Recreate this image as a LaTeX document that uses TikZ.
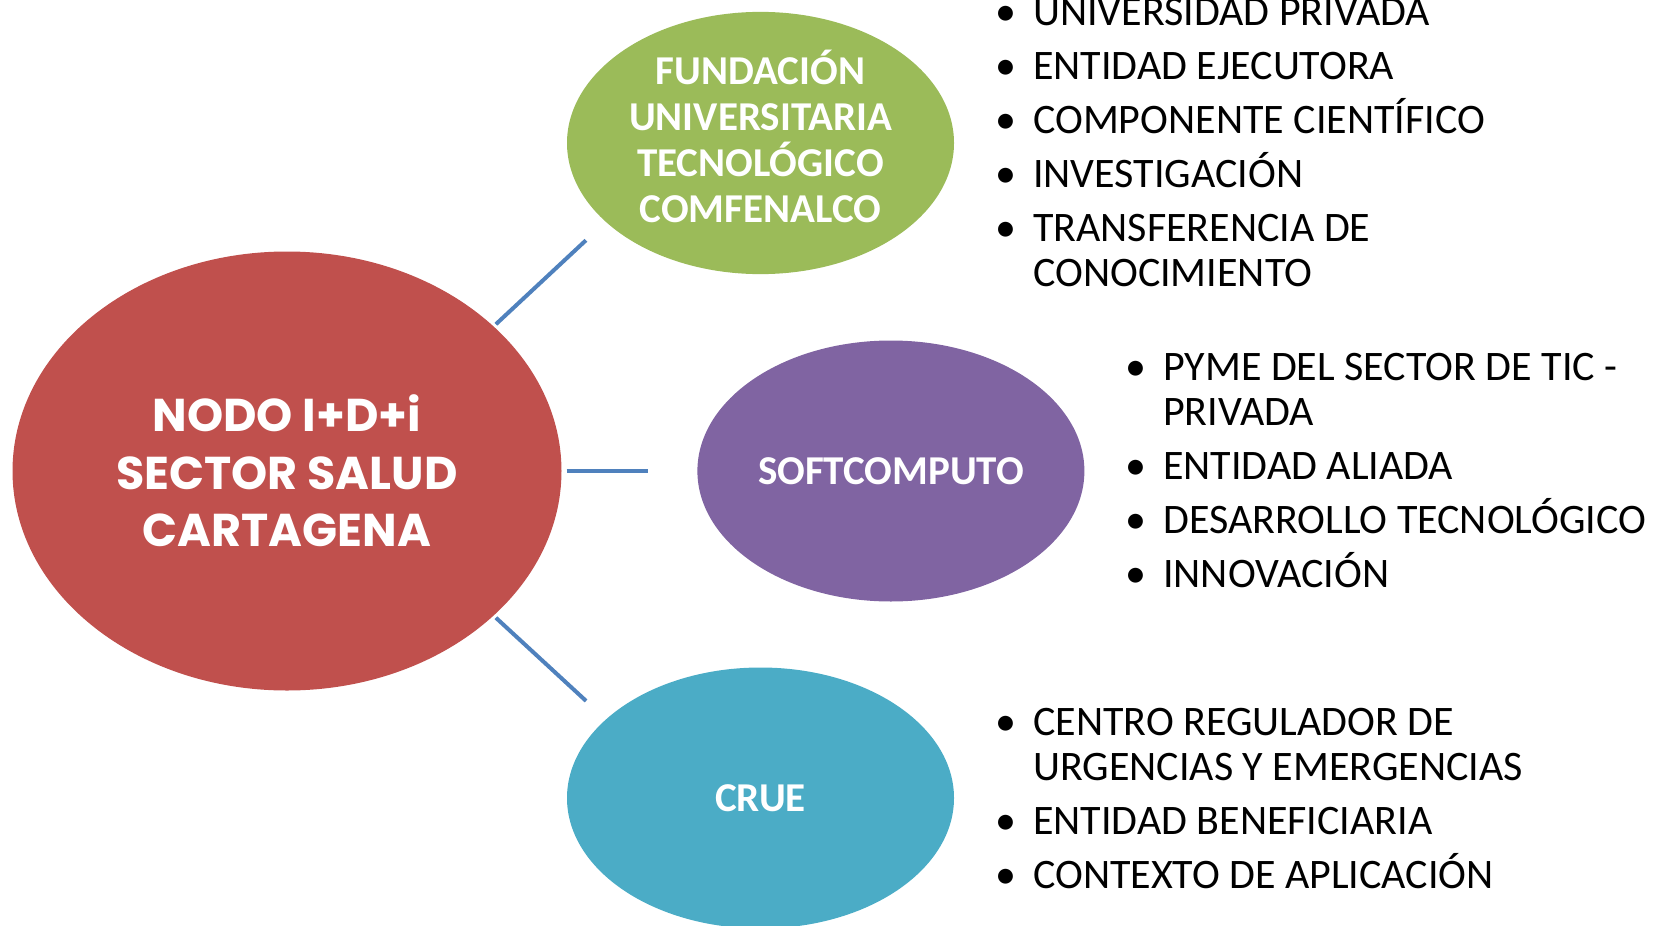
\documentclass[tikz,border=0pt]{standalone}
\usepackage{fontspec}
\setmainfont{Carlito}
\newfontfamily\gothic{Poppins}
\usepackage{tikz}
\usetikzlibrary{positioning, shapes.geometric}
\definecolor{nodored}{HTML}{C0504D}
\definecolor{fundgreen}{HTML}{9BBB59}
\definecolor{softpurple}{HTML}{8064A2}
\definecolor{cruecyan}{HTML}{4BACC6}
\definecolor{linkblue}{HTML}{4F81BD}
\newcommand{\renglon}{\rule[-9.5pt]{0pt}{45.5pt}}
\newcommand{\punto}{\renglon\makebox[26pt]{\textbullet}}
\tikzset{%
	hub/.style={ellipse, fill=nodored, minimum width=549pt, minimum height=439pt,%
		inner sep=0pt, text=white, align=center,%
		font=\gothic\bfseries\fontsize{46}{57.5}\selectfont},
	ent/.style={ellipse, minimum width=387pt, minimum height=261pt, inner sep=0pt,%
		text=white, align=center, font=\bfseries\fontsize{41}{46}\selectfont},
	conn/.style={line width=4pt, draw=linkblue},
	items/.style={anchor=north west, inner sep=0pt, font=\fontsize{42}{45.5}\selectfont}
}
\renewcommand{\arraystretch}{0}
\begin{document}
\begin{tikzpicture}[x=1pt, y=-1pt]
	\useasboundingbox (0,0) rectangle (1655,926);
	\node[hub] (nodo) at (287,471) {NODO I+D+i\\SECTOR SALUD\\CARTAGENA};
	\node[ent, fill=fundgreen] (fund) at (760.5,143)
		{FUNDACIÓN\\UNIVERSITARIA\\TECNOLÓGICO\\COMFENALCO\rule[-13pt]{0pt}{0pt}};
	\node[ent, fill=softpurple] (soft) [right=135.5pt of nodo] {SOFTCOMPUTO};
	\node[ent, fill=cruecyan] (crue) at (760.5,798) {CRUE};
	\draw [conn, shorten <=3pt, shorten >=27pt] (nodo.35) -- (fund.207);
	\draw [conn, shorten <=5pt, shorten >=49pt] (nodo.east) -- (soft.west);
	\draw [conn, shorten <=3pt, shorten >=27pt] (nodo.-35) -- (crue.153);
	\node[items] (fund-list) at (993,-11) {\begin{tabular}{@{}l@{\hspace{14pt}}l@{}}
		\punto & UNIVERSIDAD PRIVADA\\[18pt]
		\punto & ENTIDAD EJECUTORA\\[18pt]
		\punto & COMPONENTE CIENTÍFICO\\[18pt]
		\punto & INVESTIGACIÓN\\[18pt]
		\punto & TRANSFERENCIA DE\\
		\renglon & CONOCIMIENTO
	\end{tabular}};
	\node[items] (soft-list) at (1123,344) {\begin{tabular}{@{}l@{\hspace{14pt}}l@{}}
		\punto & PYME DEL SECTOR DE TIC -\\
		\renglon & PRIVADA\\[18pt]
		\punto & ENTIDAD ALIADA\\[18pt]
		\punto & DESARROLLO TECNOLÓGICO\\[18pt]
		\punto & INNOVACIÓN
	\end{tabular}};
	\node[items] (crue-list) at (993,699) {\begin{tabular}{@{}l@{\hspace{14pt}}l@{}}
		\punto & CENTRO REGULADOR DE\\
		\renglon & URGENCIAS Y EMERGENCIAS\\[18pt]
		\punto & ENTIDAD BENEFICIARIA\\[18pt]
		\punto & CONTEXTO DE APLICACIÓN
	\end{tabular}};
\end{tikzpicture}
\end{document}
